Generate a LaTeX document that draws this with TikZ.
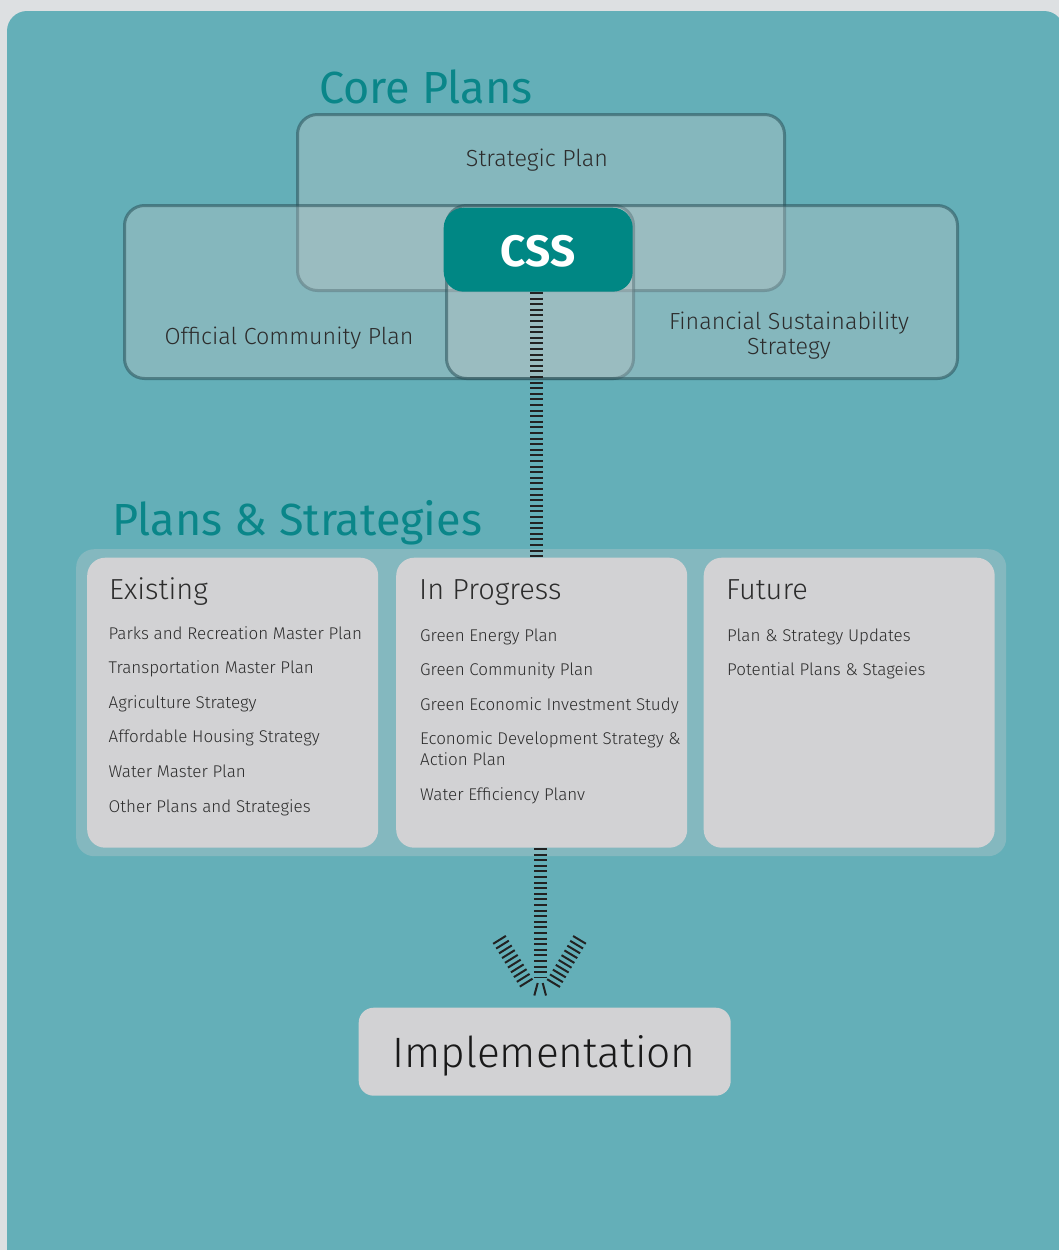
\documentclass[tikz,border=0pt]{standalone}
\usepackage{fontspec}
\setmainfont{Fira Sans}
\newfontfamily\lightf{Fira Sans Light}
\definecolor{pagegray}{HTML}{DDE0E2}
\definecolor{panelteal}{HTML}{64AFB8}
\definecolor{contteal}{HTML}{84B8BF}
\definecolor{boxfill}{RGB}{195,198,200}
\definecolor{boxline}{RGB}{40,80,88}
\definecolor{cssteal}{HTML}{008784}
\definecolor{titleteal}{HTML}{0A8689}
\definecolor{cardgray}{HTML}{D2D2D4}
\definecolor{txt}{HTML}{2C2C2C}
\definecolor{stripe}{HTML}{222222}
\tikzset{
  corebox/.style={draw=boxline, draw opacity=0.55, line width=3pt, fill=boxfill, fill opacity=0.35, rounded corners=20pt, anchor=north west, inner sep=0pt},
  cssbox/.style={fill=cssteal, rounded corners=20pt, anchor=north west, inner sep=0pt},
  container/.style={fill=contteal, rounded corners=18pt, anchor=north west, inner sep=0pt},
  card/.style={fill=cardgray, rounded corners=18pt, anchor=north west, inner sep=0pt, minimum width=291pt, minimum height=290pt},
  coretext/.style={text=txt, font=\lightf\fontsize{23.3}{26}\selectfont, inner sep=0pt, anchor=base, align=center},
  bigtitle/.style={text=titleteal, font=\fontsize{45}{50}\selectfont, inner sep=0pt, anchor=base west},
  cardhead/.style={text=txt, font=\lightf\fontsize{29}{32}\selectfont, inner sep=0pt, anchor=base west},
  item/.style={text=txt, font=\lightf\fontsize{17}{20}\selectfont, inner sep=0pt, anchor=base west, align=left},
  stripeline/.style={draw=stripe, line width=13pt, dash pattern=on 2pt off 3.6pt},
  tipline/.style={draw=stripe, line width=2pt},
}
\begin{document}
\begin{tikzpicture}[x=1pt,y=-1pt]
\useasboundingbox (0,0) rectangle (1059,1250);
\fill[pagegray] (0,0) rectangle (1059,1250);
\begin{scope}
  \clip (0,0) rectangle (1059,1250);
  \fill[panelteal, rounded corners=20pt] (7,11) rectangle (1064,1275);
\end{scope}

% titles
\node[bigtitle] (coretitle) at (319,103) {Core Plans};
\node[bigtitle] (pstitle) at (112,535) {Plans \& Strategies};

% core plan boxes
\node[corebox, minimum width=487pt, minimum height=176pt] (sp) at (296,113) {};
\node[corebox, minimum width=509pt, minimum height=173pt] (ocp) at (123,204) {};
\node[corebox, minimum width=511pt, minimum height=173pt] (fss) at (445,204) {};
\node[cssbox, minimum width=189pt, minimum height=84pt] (css) at (443.5,207.5) {};
\node[text=white, font=\bfseries\fontsize{44}{44}\selectfont, inner sep=0pt, anchor=base] (csstxt) at (538,266) {CSS};

\node[coretext] (sptxt) at (537,166) {Strategic Plan};
\node[coretext] (ocptxt) at (289,344) {Official Community Plan};
\node[coretext] (fsstxt) at (789,354) {Financial Sustainability\\[-1pt]Strategy};

% plans & strategies
\node[container, minimum width=930pt, minimum height=307pt] (cont) at (76,549) {};
\node[card] (c1) at (87,557.5) {};
\node[card] (c2) at (396,557.5) {};
\node[card] (c3) at (703.5,557.5) {};

\node[cardhead] (h1) at (109,599.5) {Existing};
\node[cardhead] (h2) at (419,599.5) {In Progress};
\node[cardhead] (h3) at (726,599.5) {Future};

\node[item] (e1) at (108.5,639.5) {Parks and Recreation Master Plan};
\node[item] (e2) at (108.5,673.5) {Transportation Master Plan};
\node[item] (e3) at (108.5,708) {Agriculture Strategy};
\node[item] (e4) at (108.5,742.5) {Affordable Housing Strategy};
\node[item] (e5) at (108.5,777.5) {Water Master Plan};
\node[item] (e6) at (108.5,812) {Other Plans and Strategies};

\node[item] (p1) at (420,641.5) {Green Energy Plan};
\node[item] (p2) at (420,675) {Green Community Plan};
\node[item] (p3) at (420,710) {Green Economic Investment Study};
\node[item] (p4) at (420,744.3) {Economic Development Strategy \&};
\node[item] (p4b) at (420,765.7) {Action Plan};
\node[item] (p5) at (420,800.7) {Water Efficiency Planv};

\node[item] (f1) at (727,641.5) {Plan \& Strategy Updates};
\node[item] (f2) at (727,675) {Potential Plans \& Stageies};

% implementation
\node[fill=cardgray, rounded corners=15pt, minimum width=372pt, minimum height=88pt, anchor=north west, inner sep=0pt] (impl) at (358.5,1007.5) {};
\node[text=black!90, font=\lightf\fontsize{42.5}{46}\selectfont, inner sep=0pt, anchor=base] (impltxt) at (544,1067) {Implementation};

% connectors
\draw[stripeline] (css.south -| 536.5,0) -- (536.5,557);
\coordinate (arrowend) at (540,978);
\draw[stripeline] (c2.south -| arrowend) -- (arrowend);
\coordinate (la1) at (499,939);
\coordinate (la2) at (527,984);
\coordinate (ra1) at (580,939);
\coordinate (ra2) at (553,984);
\draw[stripeline, line width=15pt] (la1) -- (la2);
\draw[stripeline, line width=15pt] (ra1) -- (ra2);
\coordinate (t1a) at (537.7,983);
\coordinate (t1b) at (534.3,995.5);
\coordinate (t2a) at (542.7,983);
\coordinate (t2b) at (546,995.5);
\draw[tipline] (t1a) -- (t1b);
\draw[tipline] (t2a) -- (t2b);
\end{tikzpicture}
\end{document}
